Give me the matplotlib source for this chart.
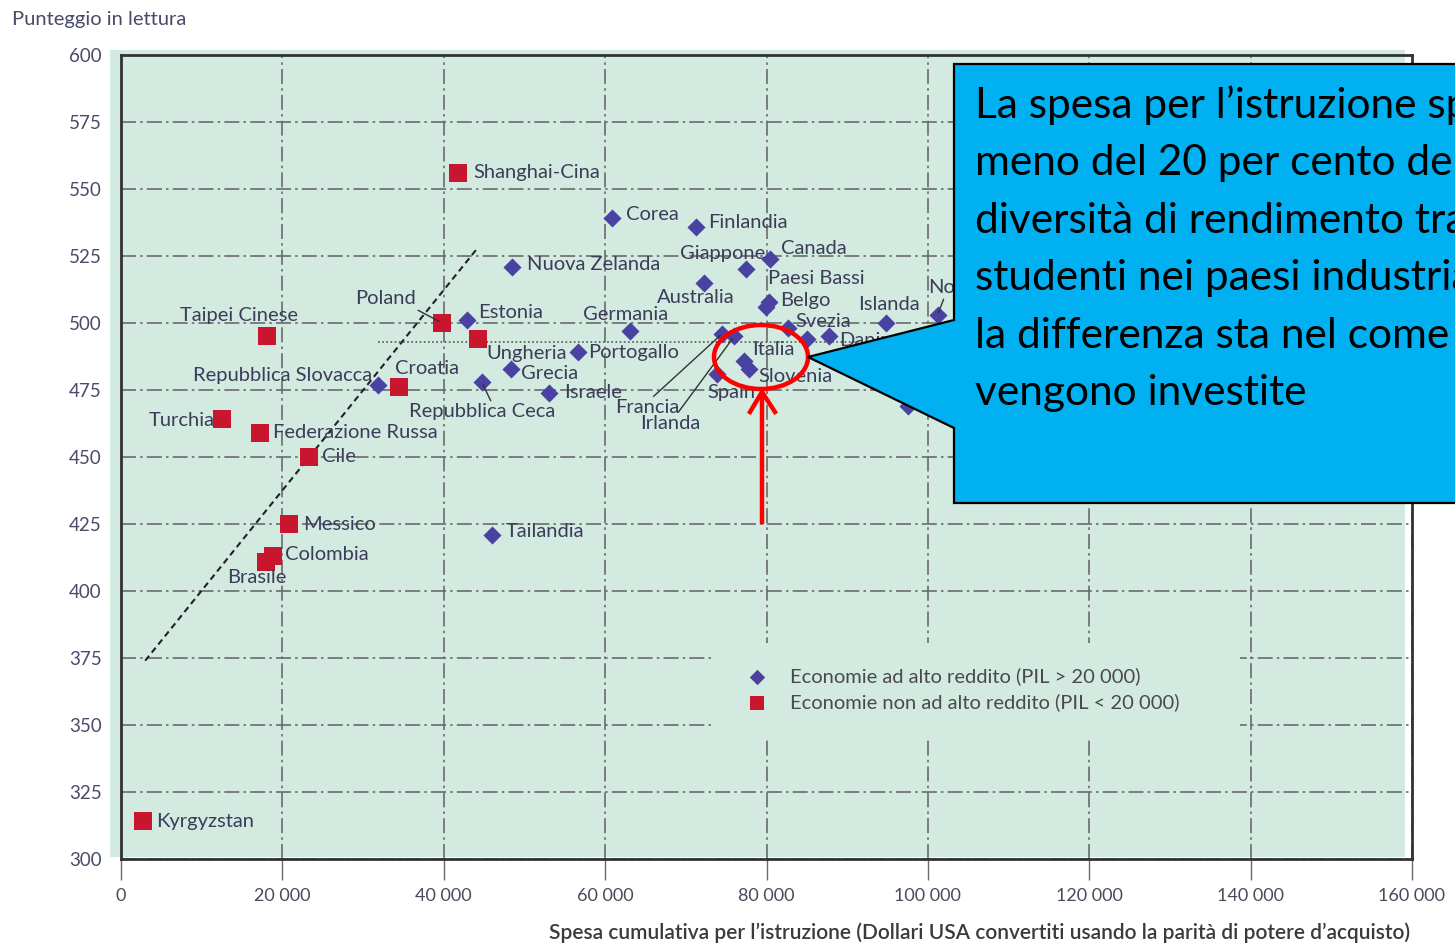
import matplotlib.pyplot as plt
from matplotlib.patches import Polygon, Ellipse, Rectangle
from matplotlib.lines import Line2D

# %% Data
# high income economies (diamonds)
hi_names = ['Corea', 'Finlandia', 'Nuova Zelanda', 'Canada', 'Giappone', 'Australia',
            'Paesi Bassi', 'Belgo', 'Estonia', 'Germania', 'Portogallo', 'Grecia',
            'Repubblica Ceca', 'Israele', 'Repubblica Slovacca', 'Francia', 'Irlanda',
            'Italia', 'Slovenia', 'Spain', 'Svezia', 'Regno Unito', 'Danimarca',
            'Islanda', 'Norvegia', 'Austria', 'Tailandia']
hi_spend = [60900, 71300, 48500, 80400, 77500, 72300,
            80300, 79900, 42900, 63100, 56600, 48300,
            44700, 53100, 31900, 74500, 76000,
            77200, 77800, 73900, 82700, 85000, 87700,
            94800, 101200, 97500, 46000]
hi_score = [539, 536, 521, 524, 520, 515,
            508, 506, 501, 497, 489, 483,
            478, 474, 477, 496, 495,
            486, 483, 481, 498, 494, 495,
            500, 503, 469, 421]

# non high income economies (squares)
lo_names = ['Shanghai-Cina', 'Taipei Cinese', 'Poland', 'Ungheria', 'Croatia', 'Turchia',
            'Federazione Russa', 'Cile', 'Messico', 'Colombia', 'Brasile', 'Kyrgyzstan']
lo_spend = [41800, 18100, 39800, 44200, 34400, 12500,
            17200, 23300, 20800, 18900, 18000, 2700]
lo_score = [556, 495, 500, 494, 476, 464,
            459, 450, 425, 413, 411, 314]

trend_x = [3000, 44200]
trend_y = [374, 528]
oecd_avg = 493
oecd_x = [31900, 105000]

x_ticks = [0, 20000, 40000, 60000, 80000, 100000, 120000, 140000, 160000]
x_labels = ['0', '20 000', '40 000', '60 000', '80 000', '100 000', '120 000', '140 000', '160 000']
y_ticks = [300, 325, 350, 375, 400, 425, 450, 475, 500, 525, 550, 575, 600]

# label offsets in pixels (dx, dy, ha); dy positive = down on screen
label_pos = {
    'Corea': (14, -4, 'left'), 'Finlandia': (12, -4, 'left'), 'Nuova Zelanda': (15, -2, 'left'),
    'Canada': (11, -10, 'left'), 'Giappone': (19, -16, 'right'), 'Australia': (-47, 15, 'left'),
    'Paesi Bassi': (-1, -23, 'left'), 'Belgo': (14, -6, 'left'), 'Estonia': (11, -8, 'left'),
    'Germania': (-47, -17, 'left'), 'Portogallo': (10, 0, 'left'), 'Grecia': (10, 5, 'left'),
    'Repubblica Ceca': (-73, 30, 'left'), 'Israele': (15, 0, 'left'),
    'Repubblica Slovacca': (-6, -9, 'right'), 'Francia': (-107, 74, 'left'),
    'Irlanda': (-94, 87, 'left'), 'Italia': (8, -11, 'left'), 'Slovenia': (10, 8, 'left'),
    'Spain': (-10, 19, 'left'), 'Svezia': (7, -7, 'left'), 'Danimarca': (10, 4, 'left'),
    'Islanda': (-28, -18, 'left'), 'Norvegia': (-9, -27, 'left'), 'Tailandia': (14, -3, 'left'),
    'Shanghai-Cina': (15, 0, 'left'), 'Taipei Cinese': (-87, -21, 'left'),
    'Poland': (-87, -24, 'left'), 'Ungheria': (9, 14, 'left'), 'Croatia': (-4, -19, 'left'),
    'Turchia': (-7, 1, 'right'), 'Federazione Russa': (13, 0, 'left'), 'Cile': (13, 0, 'left'),
    'Messico': (14, 0, 'left'), 'Colombia': (12, -2, 'left'), 'Brasile': (-39, 16, 'left'),
    'Kyrgyzstan': (13, 0, 'left'),
}
# leader lines: relpos on the text box
leaders = {'Poland': (0.95, 0.0), 'Repubblica Ceca': (0.57, 1.0), 'Francia': (0.55, 1.0),
           'Irlanda': (0.6, 1.0), 'Norvegia': (0.2, 0.0)}

callout_lines = ["La spesa per l\u2019istruzione spiega",
                 "meno del 20 per cento della",
                 "diversità di rendimento tra gli",
                 "studenti nei paesi industrializzati:",
                 "la differenza sta nel come le risorse",
                 "vengono investite"]

# %% Style
W, H = 1455, 944
BG = '#d3eae0'
BLUE = '#4a42a3'
RED = '#c8162e'
LABEL = '#3c3c5a'
GRID = '#6a6a6a'
plt.rcParams['font.family'] = ['Lato', 'DejaVu Sans']


def fx(px):
    return px / W


def fy(py):
    return 1 - py / H


fig = plt.figure(figsize=(W / 100, H / 100), dpi=100)
fig.add_artist(Rectangle((fx(110), fy(857)), fx(1405) - fx(110), fy(50) - fy(857),
                         transform=fig.transFigure, facecolor=BG, edgecolor='none', zorder=-1))
ax = fig.add_axes([fx(121), fy(859), fx(1412) - fx(121), fy(55) - fy(859)])
ax.set_facecolor('none')

ax.set_xlim(0, 160000)
ax.set_ylim(300, 600)
ax.set_xticks(x_ticks)
ax.set_xticklabels(x_labels)
ax.set_yticks(y_ticks)
ax.tick_params(axis='x', length=15, width=1, color=GRID, direction='out', pad=6,
               labelsize=13, labelcolor='#4a4a5a')
ax.tick_params(axis='y', length=0, pad=14, labelsize=13.5, labelcolor='#4a4a6a')
ax.grid(True, color=GRID, linewidth=1.2, linestyle=(0, (9, 2.5, 1.5, 2.5)), zorder=0)
ax.set_axisbelow(True)
for sp in ax.spines.values():
    sp.set_color('#333333')
    sp.set_linewidth(2)

# legend area clears the grid
ax.add_patch(Rectangle((fx(715), fy(737)), fx(1240) - fx(715), fy(643) - fy(737),
                       transform=fig.transFigure, facecolor=BG, edgecolor='none', zorder=1))

# trend line and OECD average
ax.plot(trend_x, trend_y, color='#222222', lw=1.5, ls=(0, (3, 2)), zorder=2)
ax.hlines(oecd_avg, oecd_x[0], oecd_x[1], color='#555555', lw=1.2, ls=(0, (1, 1.5)), zorder=2)

ax.scatter(hi_spend, hi_score, marker='D', s=85, color=BLUE, linewidths=0, zorder=4,
           label='Economie ad alto reddito (PIL > 20 000)')
ax.scatter(lo_spend, lo_score, marker='s', s=150, color=RED, linewidths=0, zorder=4,
           label='Economie non ad alto reddito (PIL < 20 000)')

for names, xs, ys in [(hi_names, hi_spend, hi_score), (lo_names, lo_spend, lo_score)]:
    for n, x, y in zip(names, xs, ys):
        if n not in label_pos:
            continue
        dx, dy, ha = label_pos[n]
        arrow = None
        if n in leaders:
            arrow = dict(arrowstyle='-', color='#333333', lw=1, relpos=leaders[n],
                         shrinkA=0, shrinkB=2)
        ax.annotate(n, (x, y), xytext=(dx, -dy), textcoords='offset pixels',
                    ha=ha, va='center', fontsize=14.5, color=LABEL, zorder=5,
                    arrowprops=arrow)

leg = ax.legend(loc='upper left', bbox_to_anchor=(fx(715), fy(643)),
                bbox_transform=fig.transFigure, frameon=False, fontsize=14.5,
                labelcolor='#4a4a4a', borderpad=1.2, handletextpad=0.7,
                labelspacing=0.4, borderaxespad=0, handlelength=1.8, markerscale=0.85)
leg.set_zorder(3)

# labels
fig.text(fx(12), fy(20), 'Punteggio in lettura', fontsize=14.5, color='#4a4a6a', va='center')
fig.text(fx(1410), fy(933), 'Spesa cumulativa per l\u2019istruzione (Dollari USA convertiti '
         'usando la parità di potere d\u2019acquisto)', fontsize=15, color='#3a3a3a',
         ha='right', va='center', fontweight='semibold')

# red highlight
fig.add_artist(Ellipse((fx(761), fy(357)), fx(94), 64 / H, transform=fig.transFigure,
                       facecolor='none', edgecolor='#ff0000', lw=3.2, zorder=8))
fig.add_artist(Line2D([fx(762), fx(762)], [fy(522), fy(394)], transform=fig.transFigure,
                      color='#ff0000', lw=3.2, zorder=8))
fig.add_artist(Line2D([fx(750), fx(762), fx(775)], [fy(412), fy(392), fy(412)],
                      transform=fig.transFigure, color='#ff0000', lw=3.2, zorder=8))

# callout
pts = [(954, 64), (1470, 64), (1470, 503), (954, 503), (954, 428), (808, 357), (954, 320)]
fig.add_artist(Polygon([(fx(a), fy(b)) for a, b in pts], closed=True, transform=fig.transFigure,
                       facecolor='#00b0f0', edgecolor='black', lw=1.6, zorder=9))
for i, line in enumerate(callout_lines):
    fig.text(fx(975), fy(118 + 57.4 * i), line, fontsize=30.5, color='black',
             va='baseline', ha='left', zorder=10)

fig.savefig('out.png', dpi=100)
